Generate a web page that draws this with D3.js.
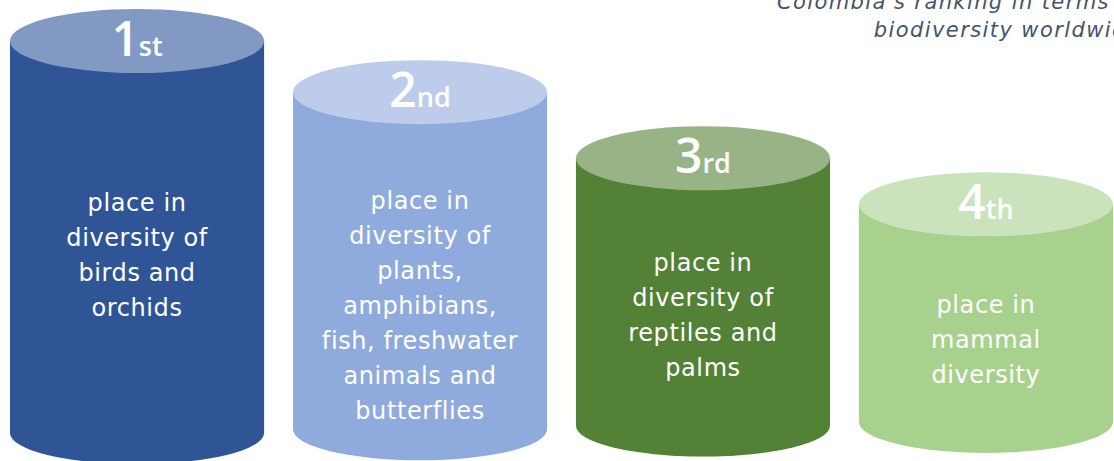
<!DOCTYPE html>
<html><head><meta charset="utf-8">
<script src="https://cdn.jsdelivr.net/npm/d3@7/dist/d3.min.js"></script>
<style>html,body{margin:0;padding:0;background:#fff;overflow:hidden}</style>
</head><body>
<svg id="c" width="1114" height="461"></svg>
<script>
const ranks = ["1", "2", "3", "4"];
const suffixes = ["st", "nd", "rd", "th"];
const heights = [10, 8.6, 6.82, 5.55];
const descriptions = [
  ["place in", "diversity of", "birds and", "orchids"],
  ["place in", "diversity of", "plants,", "amphibians,", "fish, freshwater", "animals and", "butterflies"],
  ["place in", "diversity of", "reptiles and", "palms"],
  ["place in", "mammal", "diversity"]
];
const titleLines = ["Colombia's ranking in terms of", "biodiversity worldwide"];
const sideColors = ["#2F5597", "#8FAADC", "#538135", "#A9D18E"];
const topColors = ["#8299C3", "#BCCCEA", "#98B486", "#CBE3BC"];

const svg = d3.select("#c");
const BODY = "'DejaVu Sans', sans-serif";
const NUM = "'Open Sans', sans-serif";

const x = d3.scaleBand().domain(ranks).range([10, 1113]).paddingInner(0.102).paddingOuter(0);
const h = d3.scaleLinear().domain([0, 10]).range([0, 392]);
const baseY = 433, tilt = 3.7;
const ryTop = 32, ryBot = 31;
const midFrac = [0.505, 0.579, 0.527, 0.543];

const g = svg.selectAll("g.cyl").data(ranks).join("g").attr("class", "cyl");
g.each(function(d, i) {
  const s = d3.select(this);
  const x0 = x(d), w = x.bandwidth(), cx = x0 + w / 2, rx = w / 2;
  const yb = baseY - tilt * i;
  const yt = yb - h(heights[i]);
  s.append("path")
    .attr("d", `M${x0},${yt} L${x0},${yb} A${rx},${ryBot} 0 0 0 ${x0 + w},${yb} L${x0 + w},${yt} Z`)
    .attr("fill", sideColors[i]);
  s.append("ellipse").attr("cx", cx).attr("cy", yt).attr("rx", rx).attr("ry", ryTop)
    .attr("fill", topColors[i]);
  const t = s.append("text").attr("x", cx).attr("y", yt + 15)
    .attr("text-anchor", "middle").attr("fill", "#fff").attr("font-family", NUM);
  t.append("tspan").attr("font-size", 48).attr("font-weight", 600).text(d);
  t.append("tspan").attr("font-size", 27).attr("font-weight", 600).text(suffixes[i]);
  const lines = descriptions[i];
  const lh = 35;
  const mid = yt + midFrac[i] * (yb + ryBot - yt);
  const startY = mid - (lines.length - 1) * lh / 2;
  const dt = s.append("text").attr("text-anchor", "middle").attr("fill", "#fff")
    .attr("font-family", BODY).attr("font-size", 24).attr("letter-spacing", 0.6);
  lines.forEach((ln, k) => {
    dt.append("tspan").attr("x", cx).attr("y", startY + k * lh).attr("dy", "0.35em").text(ln);
  });
});

const tt = svg.append("text").attr("text-anchor", "end").attr("fill", "#44546A")
  .attr("font-family", BODY).attr("font-style", "italic").attr("font-size", 21)
  .attr("letter-spacing", 1.4);
titleLines.forEach((ln, k) => {
  tt.append("tspan").attr("x", 1141).attr("y", 9 + k * 28).text(ln);
});
</script>
</body></html>
